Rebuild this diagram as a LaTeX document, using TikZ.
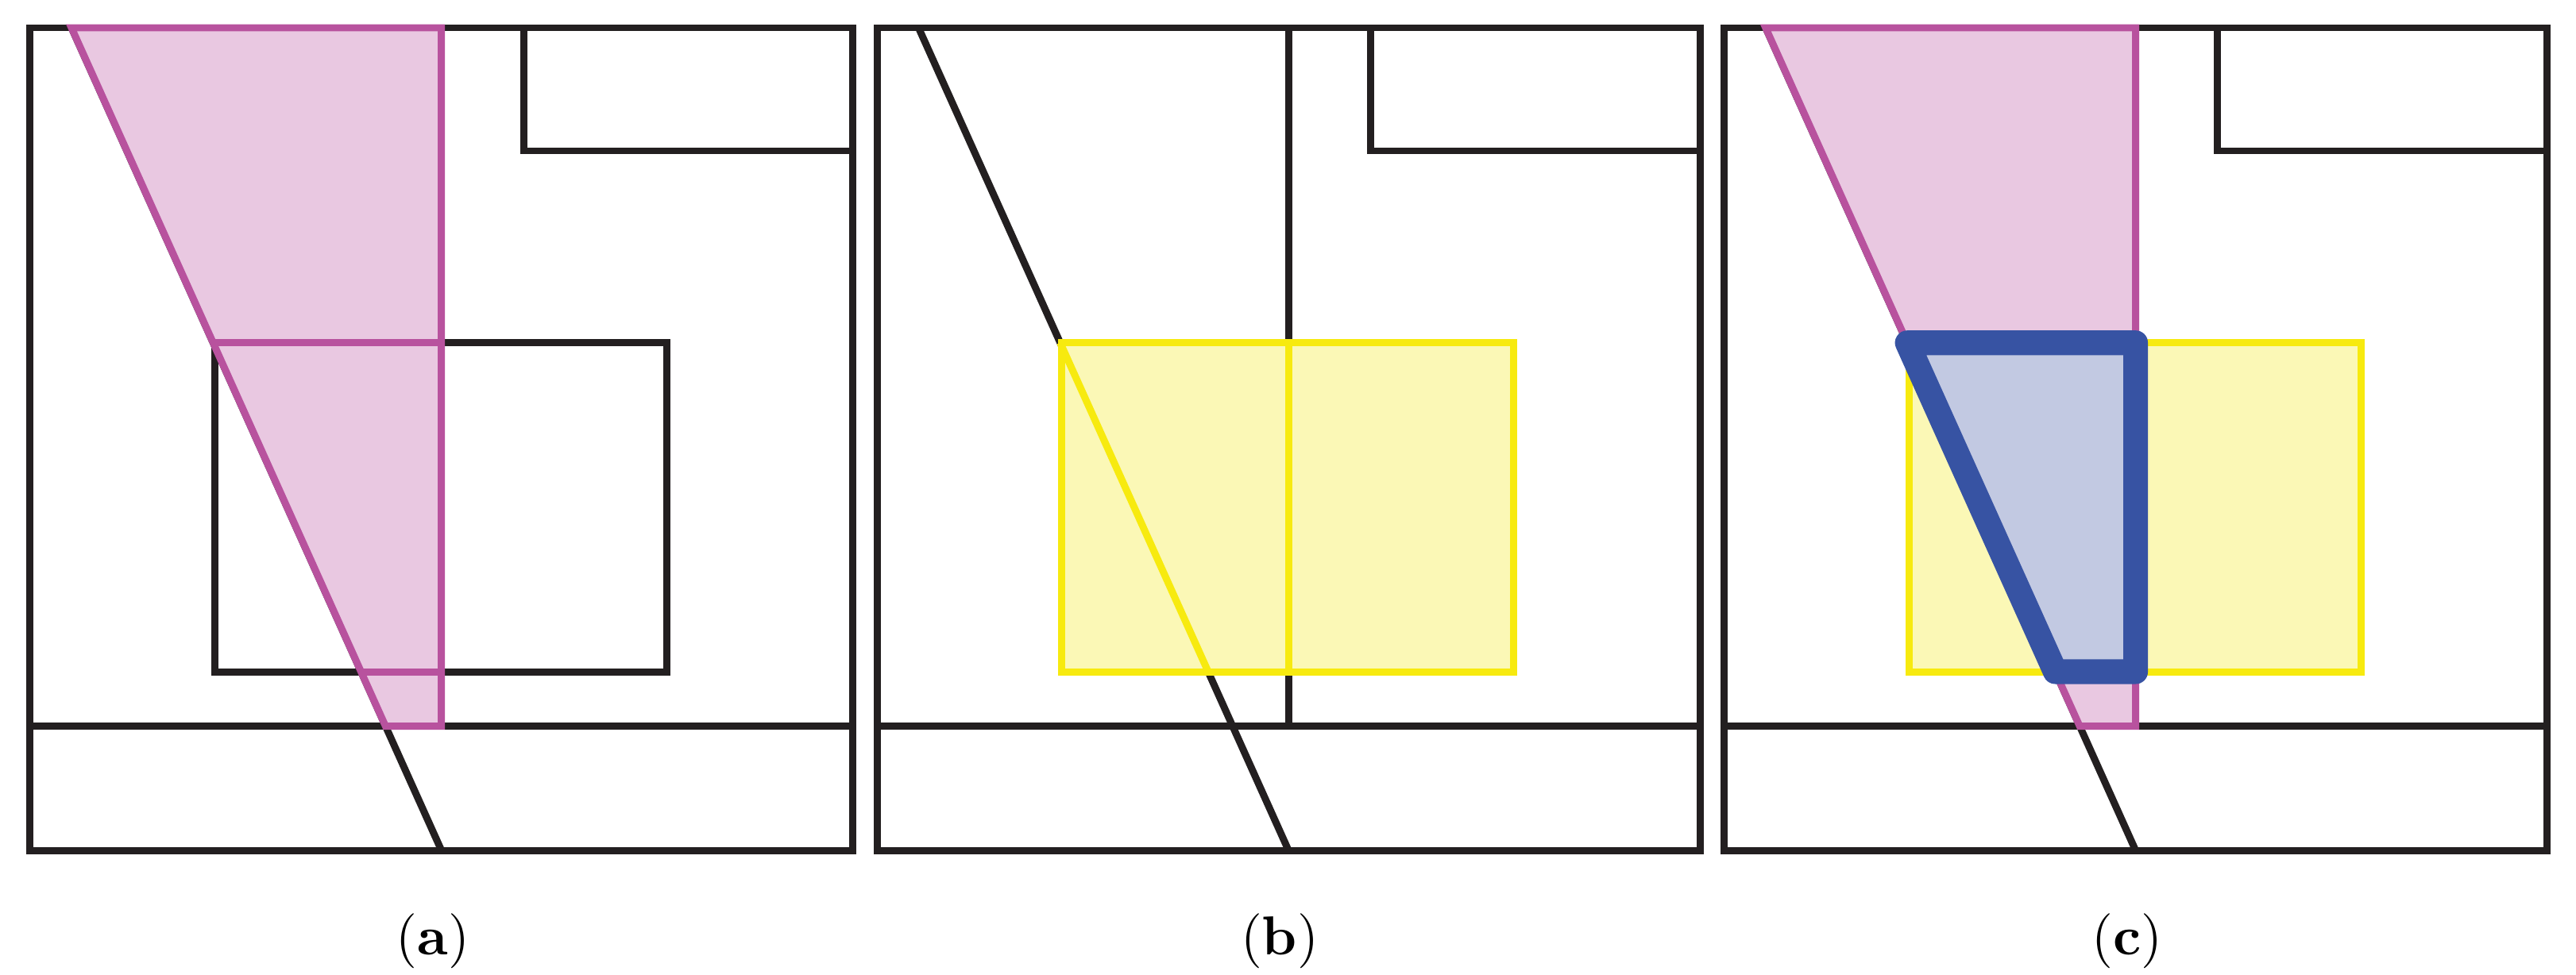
\documentclass[tikz,border=0pt]{standalone}
\definecolor{wallcol}{HTML}{231F20}
\definecolor{magline}{HTML}{B8529E}
\definecolor{magfill}{HTML}{E9C8E1}
\definecolor{yelline}{HTML}{F7EA0F}
\definecolor{yelfill}{HTML}{FBF8B6}
\definecolor{blueline}{HTML}{3753A3}
\definecolor{bluefill}{HTML}{C2C9E2}
\begin{document}
\begin{tikzpicture}[x=0.509cm,y=0.509cm,
    wall/.style={draw=wallcol,line width=1.3pt},
    cone/.style={draw=magline,line width=1.3pt},
    cell/.style={draw=yelline,line width=1.3pt},
    overlap/.style={draw=blueline,fill=bluefill,line width=4.5pt,line join=round}]
  \useasboundingbox (0,0) rectangle (32.43,12.27);
  % walls shared by the three plans
  \foreach \dx in {0.377,11.041,21.705} {
    \begin{scope}[shift={(\dx,1.56)}]
      \draw[wall] (0,0) rectangle (10.36,10.36);
      \draw[wall] (0,1.563) -- (10.36,1.563);
      \draw[wall] (6.213,10.36) -- (6.213,8.81) -- (10.36,8.81);
      \draw[wall] (0.523,10.36) -- (5.18,0);
    \end{scope}
  }
  % (a) inner room, view cone on top
  \begin{scope}[shift={(0.377,1.56)}]
    \draw[wall] (2.328,2.25) rectangle (8.018,6.393);
    \draw[cone,fill=magfill] (0.523,10.36) -- (5.18,10.36) -- (5.18,1.563)
      -- (4.477,1.563) -- cycle;
    \draw[cone] (2.306,6.393) -- (5.18,6.393);
    \draw[cone] (4.169,2.25) -- (5.18,2.25);
  \end{scope}
  % (b) split wall, cell on top
  \begin{scope}[shift={(11.041,1.56)}]
    \draw[wall] (5.18,1.563) -- (5.18,10.36);
    \draw[cell,fill=yelfill] (2.328,2.25) rectangle (8.018,6.393);
    \draw[cell] (2.306,6.393) -- (4.169,2.25);
    \draw[cell] (5.18,2.25) -- (5.18,6.393);
  \end{scope}
  % (c) cone, cell and their overlap
  \begin{scope}[shift={(21.705,1.56)}]
    \draw[cone,fill=magfill] (0.523,10.36) -- (5.18,10.36) -- (5.18,1.563)
      -- (4.477,1.563) -- cycle;
    \draw[cell,fill=yelfill] (2.328,2.25) rectangle (8.018,6.393);
    \draw[overlap] (2.306,6.393) -- (5.18,6.393) -- (5.18,2.25)
      -- (4.169,2.25) -- cycle;
  \end{scope}
  % captions
  \node[anchor=base] (capa) at (5.45,0.25) {(\textbf{a})};
  \node[anchor=base] (capb) at (16.11,0.25) {(\textbf{b})};
  \node[anchor=base] (capc) at (26.78,0.25) {(\textbf{c})};
\end{tikzpicture}
\end{document}
